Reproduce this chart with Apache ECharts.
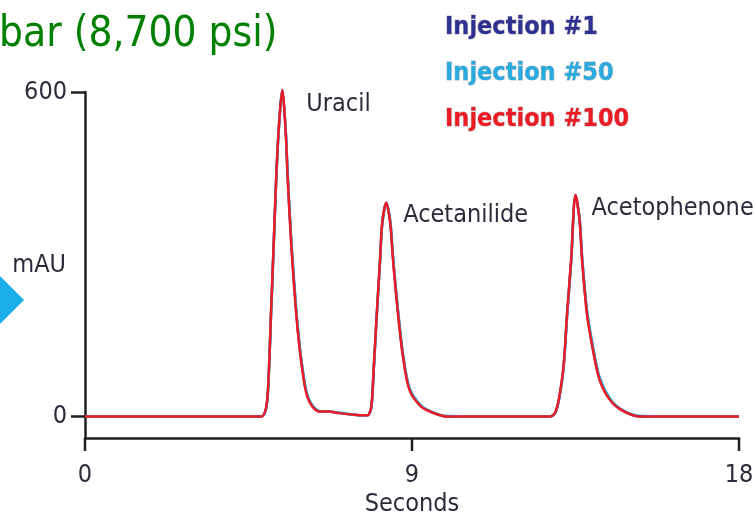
<!DOCTYPE html>
<html>
<head>
<meta charset="utf-8">
<script src="https://cdn.jsdelivr.net/npm/echarts@6/dist/echarts.min.js"></script>
<style>
  html, body { margin: 0; padding: 0; background: #fff; }
  #mybox { width: 755px; height: 519px; }
</style>
</head>
<body>
<div id="mybox"></div>
<script>
// retention time (s)
var times = [0, 4.5, 4.86, 4.99, 5.05, 5.12, 5.19, 5.26, 5.33, 5.43, 5.52, 5.58, 5.68, 5.81, 5.90, 6.02, 6.12, 6.26, 6.45, 6.7,
    7.0, 7.4, 7.7, 7.78, 7.88, 7.94, 8.015, 8.125, 8.18, 8.29, 8.40, 8.47, 8.55, 8.64, 8.75, 8.93, 9.25, 9.57, 9.94, 11,
    12.8, 12.88, 12.96, 13.05, 13.17, 13.27, 13.38, 13.5, 13.61, 13.68, 13.81, 13.96, 14.16, 14.44, 14.76, 15.26, 16.5, 18];

// absorbance (mAU) for each injection
var inj1 = [0, 0, 0, 17, 66, 189, 311, 435, 528, 603, 533, 442, 319, 197, 133, 71, 38, 19, 9, 9,
    6, 3, 2, 2, 17, 79, 170, 293, 356, 395, 360, 299, 238, 177, 114, 51, 19, 7, 0, 0,
    0, 2, 9, 33, 90, 189, 287, 409, 366, 294, 196, 133, 70, 32, 12, 0, 0, 0];
var inj50 = [0, 0, 0, 16, 64, 186, 308, 432, 526, 602, 536, 446, 324, 202, 137, 74, 40, 20, 10, 9,
    7, 3, 2, 2, 16, 77, 168, 290, 354, 394, 363, 303, 242, 181, 117, 53, 20, 8, 1, 0,
    0, 2, 9, 32, 88, 186, 284, 408, 369, 298, 201, 137, 73, 34, 13, 1, 0, 0];
var inj100 = [0, 0, 0, 18, 68, 192, 314, 438, 530, 604, 530, 438, 314, 192, 129, 68, 36, 18, 9, 9,
    6, 3, 2, 2, 18, 81, 173, 296, 358, 395, 358, 296, 234, 173, 111, 49, 18, 7, 0, 0,
    0, 2, 10, 35, 92, 192, 290, 410, 364, 290, 192, 130, 68, 31, 12, 0, 0, 0];

var seriesNames = ['Injection #1', 'Injection #50', 'Injection #100'];
var seriesColors = ['#2e3192', '#29abe2', '#ed1c24'];

var peakNames = ['Uracil', 'Acetanilide', 'Acetophenone'];
var peakTimes = [5.43, 8.29, 13.5];
var peakValues = [600, 395, 410];

var xTicks = [0, 9, 18];
var yTicks = [0, 600];
var yMin = -40;

var narrow = "'Liberation Sans Narrow', 'DejaVu Sans Condensed', 'Liberation Sans', sans-serif";
var axisColor = '#231f20';

function pairs(vals) {
    var out = [];
    for (var i = 0; i < times.length; i++) out.push([times[i], vals[i]]);
    return out;
}

var mycharts = echarts.init(document.getElementById('mybox'));

var allValues = [inj1, inj50, inj100];
var series = [];
for (var s = 0; s < 3; s++) {
    series.push({
        name: seriesNames[s],
        type: 'line',
        data: pairs(allValues[s]),
        smooth: 0.3,
        symbol: 'none',
        clip: false,
        lineStyle: { color: seriesColors[s], width: 2.5 },
        itemStyle: { color: seriesColors[s] },
        z: 2 + s
    });
}

// peak names hang off the last trace
var labelOffsets = [[24, 12], [17, 13], [16, 14]];
series[2].markPoint = {
    symbol: 'circle',
    symbolSize: 0,
    data: peakNames.map(function (n, i) {
        return {
            name: n,
            coord: [peakTimes[i], peakValues[i]],
            label: {
                show: true,
                formatter: n,
                position: 'right',
                distance: 0,
                offset: labelOffsets[i],
                color: '#2b2b3b',
                fontSize: 25,
                fontFamily: narrow
            }
        };
    })
};

var optionObj = {
    animation: false,
    title: {
        text: 'bar (8,700 psi)',
        left: -6,
        top: 9,
        textStyle: { color: '#008000', fontSize: 42, fontWeight: 'normal', fontFamily: narrow }
    },
    legend: {
        orient: 'vertical',
        left: 435,
        top: 9,
        icon: 'none',
        itemWidth: 0,
        itemGap: 20,
        data: seriesNames.map(function (n, i) {
            return { name: n, textStyle: { color: seriesColors[i] } };
        }),
        textStyle: { fontSize: 25, fontWeight: 'bold', fontFamily: narrow, textBorderColor: '#bbb', textBorderWidth: 1 }
    },
    grid: { left: 85, right: 16, top: 92, bottom: 81, outerBoundsMode: 'none' },
    xAxis: {
        type: 'value',
        min: 0,
        max: 18,
        interval: 9,
        name: 'Seconds',
        nameLocation: 'middle',
        nameGap: 54,
        nameMoveOverlap: false,
        nameTextStyle: { color: '#2b2b3b', fontSize: 25, fontFamily: narrow },
        axisLine: { onZero: false, lineStyle: { color: axisColor, width: 2.5 } },
        axisTick: { show: false },
        axisLabel: { customValues: xTicks, color: '#2b2b3b', fontSize: 25, fontFamily: narrow, margin: 25 },
        splitLine: { show: false }
    },
    yAxis: {
        type: 'value',
        min: yMin,
        max: 600,
        name: 'mAU',
        nameLocation: 'middle',
        nameRotate: 0,
        nameGap: 19,
        nameMoveOverlap: false,
        nameTextStyle: { color: '#2b2b3b', fontSize: 25, fontFamily: narrow, padding: [0, 0, 20, 0] },
        axisLine: { onZero: false, lineStyle: { color: axisColor, width: 2.5 } },
        axisTick: { length: 14, customValues: yTicks, lineStyle: { color: axisColor, width: 2.5 } },
        axisLabel: { customValues: yTicks, color: '#2b2b3b', fontSize: 25, fontFamily: narrow, margin: 18 },
        splitLine: { show: false }
    },
    series: series
};

mycharts.setOption(optionObj);

// x ticks hang down from the axis line; placed through the chart's own scale
var deco = [{
    type: 'polygon',
    shape: { points: [[0, 276], [24, 300], [0, 324]] },
    style: { fill: '#1aafe8' }
}];
xTicks.forEach(function (v) {
    var p = mycharts.convertToPixel({ gridIndex: 0 }, [v, yMin]);
    deco.push({
        type: 'line',
        shape: { x1: p[0], y1: p[1], x2: p[0], y2: p[1] + 13 },
        style: { stroke: axisColor, lineWidth: 2.5 },
        z: 10
    });
});
mycharts.setOption({ graphic: deco });
</script>
</body>
</html>
